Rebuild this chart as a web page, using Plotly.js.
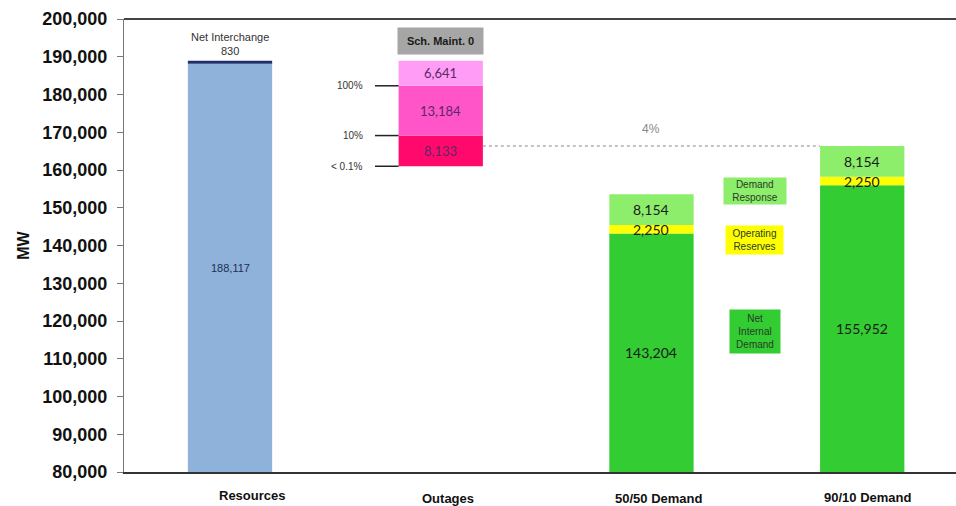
<!DOCTYPE html>
<html>
<head>
<meta charset="utf-8">
<script src="https://cdn.plot.ly/plotly-3.0.1.min.js"></script>
<style>html,body{margin:0;padding:0;background:#fff}#chart{width:956px;height:506px}</style>
</head>
<body>
<div id="chart"></div>
<script>
// ---- data ----
const categories = ['Resources', 'Outages', '50/50 Demand', '90/10 Demand'];
const resources = [188117];
const netInterchange = [830];
const outageValues = [8133, 13184, 6641];          // bottom -> top
const outageProbLabels = ['< 0.1%', '10%', '100%'];  // at bottom of each segment
const schMaint = [0];
const demandCats = ['50/50 Demand', '90/10 Demand'];
const netInternalDemand = [143204, 155952];
const operatingReserves = [2250, 2250];
const demandResponse = [8154, 8154];
const reserveMarginLabel = ['4%'];

// ---- styles ----
const C = {
  res: '#8FB2DB', ni: '#1F2F6E',
  out: ['#FF0A6C', '#FF55C8', '#FF9CF5'],
  nid: '#33CC33', or: '#FFFF00', dr: '#8DEE6C'
};
const W = 0.4;
const fmt = v => v.toLocaleString('en-US');
const yMin = 80000;

const traces = [];
traces.push({type:'bar', x:[categories[0]], y:resources, base:[0], width:W, marker:{color:C.res}, hoverinfo:'y'});
traces.push({type:'bar', x:[categories[0]], y:netInterchange, base:resources, width:W, marker:{color:C.ni}, hoverinfo:'y'});

const stackTop = resources[0] + netInterchange[0];
const outageTotal = outageValues.reduce((a,b)=>a+b,0);
const outBases = [];
let ob = stackTop - outageTotal;
outageValues.forEach((v,i)=>{
  outBases.push(ob);
  traces.push({type:'bar', x:[categories[1]], y:[v], base:[ob], width:W, marker:{color:C.out[i]}, hoverinfo:'y'});
  ob += v;
});

traces.push({type:'bar', x:demandCats, y:netInternalDemand, base:[0,0], width:W, marker:{color:C.nid}, hoverinfo:'y'});
const orBase = netInternalDemand.slice();
traces.push({type:'bar', x:demandCats, y:operatingReserves, base:orBase, width:W, marker:{color:C.or}, hoverinfo:'y'});
const drBase = netInternalDemand.map((v,i)=>v+operatingReserves[i]);
traces.push({type:'bar', x:demandCats, y:demandResponse, base:drBase, width:W, marker:{color:C.dr}, hoverinfo:'y'});

const numFont = {family:'Lato, "Open Sans", sans-serif', size:14, color:'#1a1a1a'};
const ann = [];
// Resources
ann.push({x:categories[0], y:(yMin+resources[0])/2, text:fmt(resources[0]), showarrow:false,
  font:{family:'"Liberation Sans", Arial, sans-serif', size:11, color:'#203050'}});
ann.push({x:categories[0], y:stackTop, yanchor:'bottom', yshift:2, text:'Net Interchange<br>'+fmt(netInterchange[0]), showarrow:false,
  font:{family:'"Liberation Sans", Arial, sans-serif', size:11, color:'#333'}});
// Outages
outageValues.forEach((v,i)=>{
  ann.push({x:categories[1], y:outBases[i]+v/2, text:fmt(v), showarrow:false,
    font:{family:'Lato, sans-serif', size:13, color:'#5a2866'}});
  ann.push({x:0.64, y:outBases[i], text:outageProbLabels[i], showarrow:false, xanchor:'right',
    font:{family:'"Liberation Sans", Arial, sans-serif', size:10, color:'#333'}});
});
ann.push({x:categories[1], y:stackTop, yanchor:'bottom', yshift:6, text:'<b>Sch. Maint. '+schMaint[0]+'</b>', showarrow:false,
  width:85, height:26, bgcolor:'#A6A6A6', borderpad:0,
  font:{family:'"Liberation Sans", Arial, sans-serif', size:11, color:'#1a1a1a'}});
// Demand
demandCats.forEach((c,i)=>{
  ann.push({x:c, y:(yMin+netInternalDemand[i])/2, text:fmt(netInternalDemand[i]), showarrow:false, font:numFont});
  ann.push({x:c, y:orBase[i]+operatingReserves[i]/2, text:fmt(operatingReserves[i]), showarrow:false, font:numFont});
  ann.push({x:c, y:drBase[i]+demandResponse[i]/2, text:fmt(demandResponse[i]), showarrow:false, font:numFont});
});
const peak = drBase[1] + demandResponse[1];
ann.push({x:2, y:peak, yanchor:'bottom', yshift:8, text:reserveMarginLabel[0], showarrow:false,
  font:{family:'"Liberation Sans", Arial, sans-serif', size:12, color:'#888'}});
// legend-like boxes
const boxFont = {family:'"Liberation Sans", Arial, sans-serif', size:10, color:'#2a3a2a'};
ann.push({x:2.49, y:154400, text:'Demand<br>Response', showarrow:false, bgcolor:C.dr, width:62, height:26, borderpad:0, font:boxFont});
ann.push({x:2.49, y:141450, text:'Operating<br>Reserves', showarrow:false, bgcolor:C.or, width:57, height:28, borderpad:0, font:boxFont});
ann.push({x:2.49, y:117100, text:'Net<br>Internal<br>Demand', showarrow:false, bgcolor:C.nid, width:50, height:43, borderpad:0, font:boxFont});
// category labels
const labShiftX = [22, 7, 7, 5];
const labShiftY = [-14, -17, -17, -16];
categories.forEach((c,i)=>{
  ann.push({x:c, y:0, yref:'paper', yanchor:'top', xshift:labShiftX[i], yshift:labShiftY[i], text:'<b>'+c+'</b>', showarrow:false,
    font:{family:'"Liberation Sans", Arial, sans-serif', size:13, color:'#111'}});
});

const shapes = [];
outBases.forEach((bb,i)=>{
  shapes.push({type:'line', xref:'x', yref:'y', x0:0.688, x1:0.8, y0:bb, y1:bb, line:{color:'#222', width:1.5}});
});
shapes.push({type:'line', xref:'x', yref:'y', x0:1.2, x1:2.8, y0:peak, y1:peak, line:{color:'#888', width:1.2, dash:'dot'}});
shapes.push({type:'line', xref:'paper', yref:'paper', x0:0, x1:1, y0:1, y1:1, line:{color:'#444', width:2}});

const layout = {
  width:956, height:506,
  margin:{l:124, r:0, t:19, b:34},
  paper_bgcolor:'#fff', plot_bgcolor:'#fff',
  barmode:'overlay', showlegend:false,
  xaxis:{type:'category', categoryarray:categories, range:[-0.503, 3.445], showticklabels:false,
    showline:true, linecolor:'#333', linewidth:2, showgrid:false, zeroline:false, ticks:''},
  yaxis:{range:[yMin, 200000], dtick:10000, tickformat:',', showgrid:false, zeroline:false,
    showline:true, linecolor:'#777', linewidth:1, ticks:'outside', ticklen:6, tickcolor:'#777',
    ticklabelstandoff:6,
    tickfont:{family:'"Liberation Sans", Arial, sans-serif', size:18, color:'#111', weight:'bold'},
    title:{text:'<b>MW</b>', standoff:8, font:{family:'"Liberation Sans", Arial, sans-serif', size:16, color:'#111'}}},
  annotations:ann, shapes:shapes
};
Plotly.newPlot('chart', traces, layout, {displayModeBar:false, staticPlot:true});
</script>
</body>
</html>
